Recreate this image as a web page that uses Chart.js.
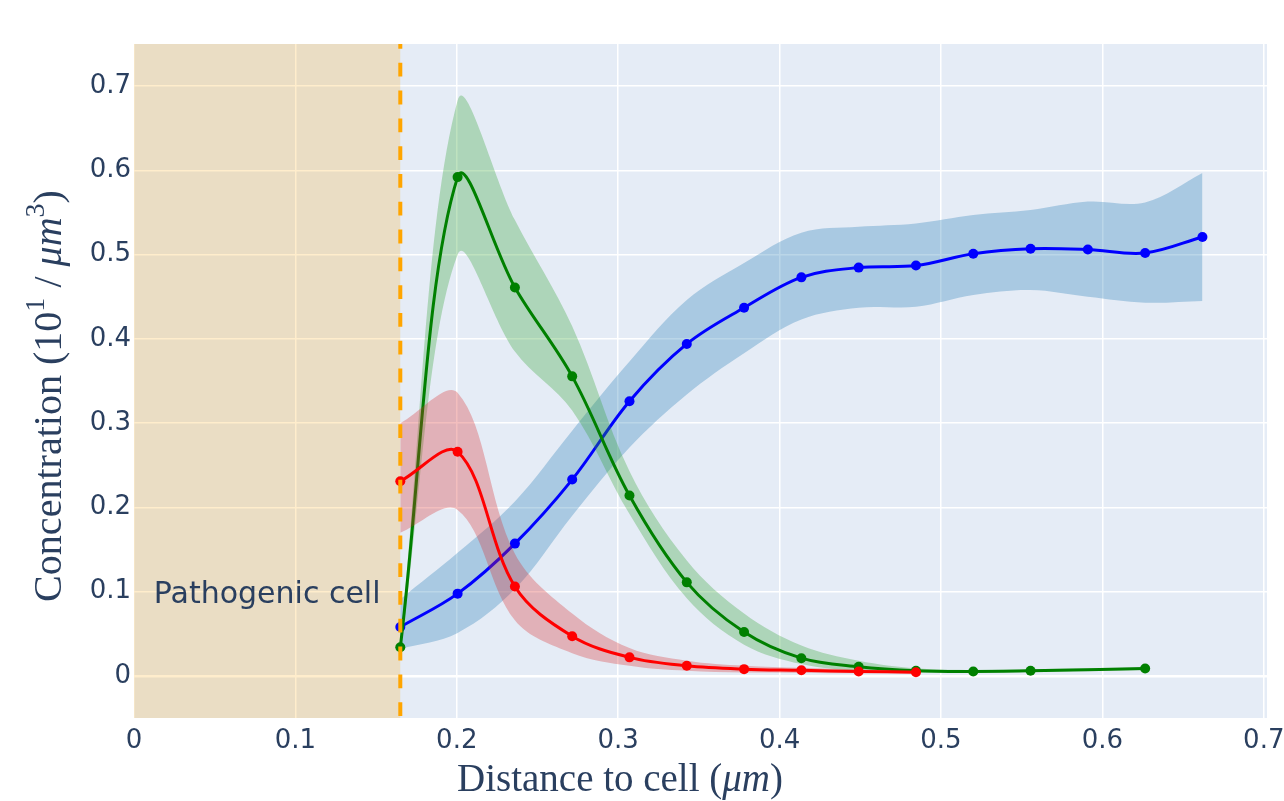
<!DOCTYPE html>
<html>
<head>
<meta charset="utf-8">
<script src="https://cdn.jsdelivr.net/npm/chart.js@4.4.1/dist/chart.umd.min.js"></script>
<style>
html,body{margin:0;padding:0;background:#ffffff;}
canvas{display:block;}
</style>
</head>
<body>
<canvas id="c" width="1284" height="801"></canvas>
<script>
// ---------------- data ----------------
const BLUE_DIST   = [0.165, 0.2005, 0.236, 0.2715, 0.307, 0.3425, 0.378, 0.4135, 0.449, 0.4845, 0.52, 0.5555, 0.591, 0.6265, 0.662];
const BLUE_MEAN   = [0.058, 0.0976, 0.157, 0.233, 0.326, 0.394, 0.437, 0.473, 0.4846, 0.487, 0.501, 0.507, 0.506, 0.502, 0.521];
const BLUE_UPPER  = [0.091, 0.146, 0.207, 0.291, 0.373, 0.446, 0.490, 0.526, 0.533, 0.537, 0.547, 0.553, 0.563, 0.562, 0.597];
const BLUE_LOWER  = [0.032, 0.051, 0.103, 0.190, 0.271, 0.334, 0.383, 0.423, 0.437, 0.438, 0.452, 0.458, 0.450, 0.443, 0.445];

const GREEN_DIST  = [0.165, 0.2005, 0.236, 0.2715, 0.307, 0.3425, 0.378, 0.4135, 0.449, 0.4845, 0.52, 0.5555, 0.6265];
const GREEN_MEAN  = [0.034, 0.592, 0.461, 0.3555, 0.214, 0.111, 0.052, 0.021, 0.0107, 0.006, 0.0052, 0.006, 0.0088];
const GREEN_UPPER = [0.040, 0.683, 0.541, 0.415, 0.243, 0.137, 0.074, 0.036, 0.018, 0.009, 0.007, 0.008, 0.010];
const GREEN_LOWER = [0.028, 0.500, 0.385, 0.315, 0.192, 0.092, 0.037, 0.014, 0.006, 0.004, 0.004, 0.005, 0.007];

const RED_DIST    = [0.165, 0.2005, 0.236, 0.2715, 0.307, 0.3425, 0.378, 0.4135, 0.449, 0.4845];
const RED_MEAN    = [0.231, 0.266, 0.106, 0.047, 0.022, 0.012, 0.008, 0.0067, 0.0052, 0.0044];
const RED_UPPER   = [0.300, 0.336, 0.145, 0.074, 0.033, 0.018, 0.012, 0.0095, 0.0075, 0.0065];
const RED_LOWER   = [0.170, 0.197, 0.066, 0.027, 0.012, 0.006, 0.004, 0.0035, 0.003, 0.0025];

const X_TICKS       = [0, 0.1, 0.2, 0.3, 0.4, 0.5, 0.6, 0.7];
const X_TICK_LABELS = ['0', '0.1', '0.2', '0.3', '0.4', '0.5', '0.6', '0.7'];
const Y_TICKS       = [0, 0.1, 0.2, 0.3, 0.4, 0.5, 0.6, 0.7];
const Y_TICK_LABELS = ['0', '0.1', '0.2', '0.3', '0.4', '0.5', '0.6', '0.7'];

const CELL_EDGE  = 0.165;
const CELL_LABEL = 'Pathogenic cell';
const CELL_LABEL_Y = 0.1;

const X_TITLE = [{t:'Distance to cell ('}, {t:'\u03BCm', it:true}, {t:')'}];
const Y_TITLE = [{t:'Concentration ('}, {t:'10'}, {t:'1', sup:true}, {t:' / '}, {t:'\u03BCm', it:true}, {t:'3', sup:true}, {t:')'}];

// ---------------- styling ----------------
const TEXT_COLOR = '#2a3f5f';
const TICK_FONT = {family:'DejaVu Sans', size:26};
const SERIF = '"Liberation Serif", "DejaVu Serif", serif';

const pts = (xs, ys) => xs.map((x, i) => ({x: x, y: ys[i]}));

function meanSet(xs, ys, color, order) {
  return {data: pts(xs, ys), borderColor: color, backgroundColor: color, borderWidth: 3,
    pointRadius: 5, pointBorderWidth: 0, pointHoverRadius: 5, tension: 0.35, fill: false, order: order};
}
function bandSet(xs, ys, fillTarget, fillColor, order) {
  return {data: pts(xs, ys), borderColor: 'transparent', backgroundColor: fillColor, borderWidth: 0,
    pointRadius: 0, pointHoverRadius: 0, tension: 0.35,
    fill: fillTarget === null ? false : {target: fillTarget}, order: order};
}

const datasets = [
  meanSet(RED_DIST, RED_MEAN, '#ff0000', 0),
  bandSet(RED_DIST, RED_UPPER, 2, 'rgba(214,39,40,0.3)', 1),
  bandSet(RED_DIST, RED_LOWER, null, 'rgba(214,39,40,0.3)', 1),
  meanSet(GREEN_DIST, GREEN_MEAN, '#008000', 2),
  bandSet(GREEN_DIST, GREEN_UPPER, 5, 'rgba(44,160,44,0.3)', 3),
  bandSet(GREEN_DIST, GREEN_LOWER, null, 'rgba(44,160,44,0.3)', 3),
  meanSet(BLUE_DIST, BLUE_MEAN, '#0000ff', 4),
  bandSet(BLUE_DIST, BLUE_UPPER, 8, 'rgba(31,119,180,0.3)', 5),
  bandSet(BLUE_DIST, BLUE_LOWER, null, 'rgba(31,119,180,0.3)', 5)
];

function richWidth(ctx, pieces, fs) {
  let w = 0;
  for (const p of pieces) {
    ctx.font = (p.it ? 'italic ' : '') + (p.sup ? fs * 0.7 : fs) + 'px ' + SERIF;
    w += ctx.measureText(p.t).width;
  }
  return w;
}
function drawRich(ctx, pieces, x, y, fs) {
  let cx = x;
  for (const p of pieces) {
    ctx.font = (p.it ? 'italic ' : '') + (p.sup ? fs * 0.7 : fs) + 'px ' + SERIF;
    ctx.fillText(p.t, cx, y - (p.sup ? fs * 0.42 : 0));
    cx += ctx.measureText(p.t).width;
  }
}

const decor = {
  id: 'decor',
  beforeDraw(chart) {
    const {ctx, chartArea: a} = chart;
    ctx.save();
    ctx.fillStyle = '#E5ECF6';
    ctx.fillRect(a.left, a.top, a.right - a.left, a.bottom - a.top);
    ctx.restore();
  },
  beforeDatasetsDraw(chart) {
    const {ctx, chartArea: a} = chart;
    const xs = chart.scales.x;
    const x0 = xs.getPixelForValue(0), x1 = xs.getPixelForValue(CELL_EDGE);
    ctx.save();
    ctx.fillStyle = 'rgba(255,165,0,0.2)';
    ctx.fillRect(x0, a.top, x1 - x0, a.bottom - a.top);
    ctx.restore();
  },
  afterDatasetsDraw(chart) {
    const {ctx, chartArea: a} = chart;
    const xs = chart.scales.x, ys = chart.scales.y;
    const xe = xs.getPixelForValue(CELL_EDGE);
    ctx.save();
    ctx.strokeStyle = '#FFA500';
    ctx.lineWidth = 4;
    ctx.setLineDash([13.8, 14]);
    ctx.lineDashOffset = 9;
    ctx.beginPath();
    ctx.moveTo(xe, a.top);
    ctx.lineTo(xe, a.bottom);
    ctx.stroke();
    ctx.setLineDash([]);
    const fs = 30;
    ctx.font = fs + 'px "DejaVu Sans"';
    ctx.fillStyle = TEXT_COLOR;
    ctx.textAlign = 'center';
    ctx.textBaseline = 'alphabetic';
    ctx.fillText(CELL_LABEL, xs.getPixelForValue(CELL_EDGE / 2), ys.getPixelForValue(CELL_LABEL_Y) + 0.729 * fs / 2);
    ctx.restore();
  },
  afterDraw(chart) {
    const ctx = chart.ctx;
    ctx.save();
    ctx.fillStyle = TEXT_COLOR;
    ctx.textAlign = 'left';
    ctx.textBaseline = 'alphabetic';
    let fs = 38;
    fs = fs * 326 / richWidth(ctx, X_TITLE, fs);
    const w = richWidth(ctx, X_TITLE, fs);
    drawRich(ctx, X_TITLE, 620 - w / 2, 791, fs);
    let fy = 38;
    fy = fy * 412 / richWidth(ctx, Y_TITLE, fy);
    const wy = richWidth(ctx, Y_TITLE, fy);
    ctx.translate(61, 396);
    ctx.rotate(-Math.PI / 2);
    drawRich(ctx, Y_TITLE, -wy / 2, 0, fy);
    ctx.restore();
  }
};

new Chart(document.getElementById('c'), {
  type: 'line',
  data: {datasets: datasets},
  options: {
    responsive: false,
    animation: false,
    devicePixelRatio: 1,
    layout: {padding: {left: 0, right: 17, top: 44, bottom: 0}},
    plugins: {legend: {display: false}, tooltip: {enabled: false}},
    scales: {
      x: {
        type: 'linear', min: 0, max: 0.702,
        grid: {color: '#ffffff', lineWidth: 1.5, drawTicks: false},
        border: {display: false},
        afterBuildTicks: s => { s.ticks = X_TICKS.map(v => ({value: v})); },
        afterFit: s => { s.height = 83; s.paddingLeft = 0; s.paddingRight = 0; },
        ticks: {font: TICK_FONT, color: TEXT_COLOR, padding: 8, maxRotation: 0, autoSkip: false,
          callback: (v) => { const i = X_TICKS.findIndex(t => Math.abs(t - v) < 1e-9); return i >= 0 ? X_TICK_LABELS[i] : ''; }}
      },
      y: {
        type: 'linear', min: -0.05, max: 0.75,
        grid: {color: '#ffffff', lineWidth: c => (c.tick && Math.abs(c.tick.value) < 1e-9 ? 2.5 : 1.5), drawTicks: false},
        border: {display: false},
        afterBuildTicks: s => { s.ticks = Y_TICKS.map(v => ({value: v})); },
        afterFit: s => { s.width = 134; s.paddingTop = 0; s.paddingBottom = 0; },
        ticks: {font: TICK_FONT, color: TEXT_COLOR, padding: 3, autoSkip: false,
          callback: (v) => { const i = Y_TICKS.findIndex(t => Math.abs(t - v) < 1e-9); return i >= 0 ? Y_TICK_LABELS[i] : ''; }}
      }
    }
  },
  plugins: [decor]
});
</script>
</body>
</html>
